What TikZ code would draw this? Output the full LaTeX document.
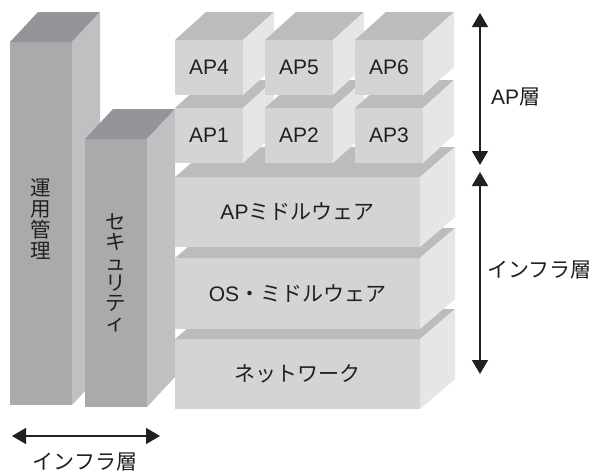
\documentclass[tikz,border=0pt]{standalone}
\usepackage{fontspec}
\setmainfont{Noto Sans CJK JP}
\newfontfamily\lat{Liberation Sans}
\usetikzlibrary{arrows.meta}
\definecolor{colfront}{HTML}{A9AAAC}
\definecolor{coltop}{HTML}{949598}
\definecolor{colside}{HTML}{BFC0C2}
\definecolor{layfront}{HTML}{D3D4D6}
\definecolor{laytop}{HTML}{BBBCBE}
\definecolor{layside}{HTML}{E5E6E7}
\definecolor{ink}{HTML}{231F20}
% #1 name, #2 cx, #3 cy, #4 w, #5 h, #6 dx, #7 dy (up), #8 palette, #9 text
\newcommand{\blockbox}[9]{%
  \node[facebox, fill=#8front, minimum width=#4pt, minimum height=#5pt] (#1) at (#2,#3) {#9};
  \fill[#8top] (#1.north west) -- ++(#6pt,#7pt) -- ++(#4pt,0pt) -- (#1.north east) -- cycle;
  \fill[#8side] (#1.north east) -- ++(#6pt,#7pt) -- ++(0pt,-#5pt) -- (#1.south east) -- cycle;
}
\begin{document}
\begin{tikzpicture}[x=1pt,y=-1pt,
  facebox/.style={rectangle, inner sep=0pt, outer sep=0pt, draw=none, text=ink,
    font=\fontsize{21}{24}\selectfont},
  vlabel/.style={align=center, text=ink, inner sep=0pt,
    font=\fontsize{20.5}{21}\selectfont},
  lbl/.style={text=ink, inner sep=0pt, font=\fontsize{21}{24}\selectfont},
  dim/.style={draw=ink, line width=1.3pt, {Triangle[width=16pt,length=14pt]}-{Triangle[width=16pt,length=14pt]}}
]
\useasboundingbox (0,0) rectangle (592,471);
\fill[white] (0,0) rectangle (592,471);
% columns
\blockbox{mgmt}{41}{223.5}{62}{363}{28}{30}{col}{}
\node[vlabel] (mgmtlbl) at (41,219) {運\\用\\管\\理};
\blockbox{sec}{116}{273}{62}{268}{28}{30}{col}{}
\node[vlabel, font=\fontsize{20.5}{20.2}\selectfont] (seclbl) at (116,273) {セ\\キ\\ュ\\リ\\テ\\ィ};
% layers
\blockbox{net}{297.5}{374}{245}{70}{35}{30}{lay}{ネットワーク}
\blockbox{os}{297.5}{293.5}{245}{71}{35}{30}{lay}{{\lat OS}・ミドルウェア}
\blockbox{apmw}{297.5}{212}{245}{70}{35}{30}{lay}{{\lat AP}ミドルウェア}
% AP boxes
\blockbox{ap1}{209}{135.5}{68}{55}{31}{28}{lay}{\lat AP1}
\blockbox{ap2}{299}{135.5}{68}{55}{31}{28}{lay}{\lat AP2}
\blockbox{ap3}{389}{135.5}{68}{55}{31}{28}{lay}{\lat AP3}
\blockbox{ap4}{209}{67.5}{68}{55}{31}{28}{lay}{\lat AP4}
\blockbox{ap5}{299}{67.5}{68}{55}{31}{28}{lay}{\lat AP5}
\blockbox{ap6}{389}{67.5}{68}{55}{31}{28}{lay}{\lat AP6}
% dimension arrows
\coordinate (apT) at (480,13);
\coordinate (apB) at (480,165);
\coordinate (inT) at (480,172);
\coordinate (inB) at (480,374);
\coordinate (hL) at (12,436);
\coordinate (hR) at (160,436);
\draw[dim] (apT) -- (apB);
\draw[dim] (inT) -- (inB);
\draw[dim] (hL) -- (hR);
\node[lbl, anchor=west] (aplbl) at (491,97) {{\lat AP}層};
\node[lbl, anchor=west] (inlbl) at (487,270) {インフラ層};
\node[lbl] (hlbl) at (85,462) {インフラ層};
\end{tikzpicture}
\end{document}
